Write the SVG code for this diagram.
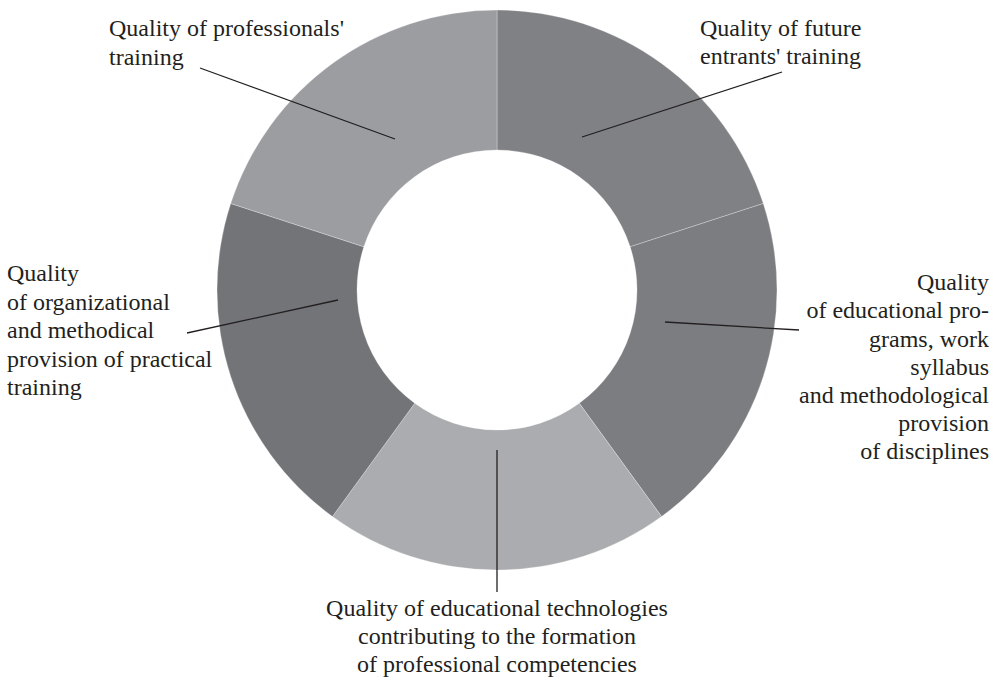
<svg xmlns="http://www.w3.org/2000/svg" width="998" height="684" viewBox="0 0 998 684">
<style>
.seg{stroke:#ffffff;stroke-opacity:0.35;stroke-width:0.8}
.lead{stroke:#231f20;stroke-width:1.3;fill:none}
text{font-family:'Liberation Serif','Times New Roman',serif;font-size:24px;fill:#231f20}
</style>
<rect width="998" height="684" fill="#ffffff"/>
<g id="seg-future-entrants">
<path class="seg" fill="#808185" d="M497,10 A280,280 0 0 1 763.30,203.47 L630.15,246.74 A140,140 0 0 0 497,150 Z"/>
</g>
<g id="seg-educational-programs">
<path class="seg" fill="#7c7d81" d="M763.30,203.47 A280,280 0 0 1 661.58,516.53 L579.29,403.26 A140,140 0 0 0 630.15,246.74 Z"/>
</g>
<g id="seg-educational-technologies">
<path class="seg" fill="#abacaf" d="M661.58,516.53 A280,280 0 0 1 332.42,516.53 L414.71,403.26 A140,140 0 0 0 579.29,403.26 Z"/>
</g>
<g id="seg-practical-training">
<path class="seg" fill="#737478" d="M332.42,516.53 A280,280 0 0 1 230.70,203.47 L363.85,246.74 A140,140 0 0 0 414.71,403.26 Z"/>
</g>
<g id="seg-professionals">
<path class="seg" fill="#9c9da1" d="M230.70,203.47 A280,280 0 0 1 497,10 L497,150 A140,140 0 0 0 363.85,246.74 Z"/>
</g>
<g id="connectors">
<line class="lead" x1="200" y1="68" x2="395" y2="139"/>
<line class="lead" x1="782" y1="72" x2="582" y2="137"/>
<line class="lead" x1="187" y1="333" x2="338" y2="300"/>
<line class="lead" x1="665" y1="322" x2="799" y2="330"/>
<line class="lead" x1="497" y1="450" x2="497" y2="592"/>
</g>
<g id="label-professionals" font-family="Liberation Serif, serif" font-size="24">
<text x="109" y="36">Quality of professionals'</text>
<text x="109" y="65">training</text>
</g>
<g id="label-future-entrants" font-family="Liberation Serif, serif" font-size="24">
<text x="700" y="36">Quality of future</text>
<text x="700" y="64">entrants' training</text>
</g>
<g id="label-practical-training" font-family="Liberation Serif, serif" font-size="24">
<text x="7" y="281">Quality</text>
<text x="7" y="310">of organizational</text>
<text x="7" y="338">and methodical</text>
<text x="7" y="367">provision of practical</text>
<text x="7" y="395">training</text>
</g>
<g id="label-educational-programs" font-family="Liberation Serif, serif" font-size="24" text-anchor="end">
<text x="989" y="290">Quality</text>
<text x="989" y="318">of educational pro-</text>
<text x="989" y="347">grams, work</text>
<text x="989" y="375">syllabus</text>
<text x="989" y="403">and methodological</text>
<text x="989" y="431">provision</text>
<text x="989" y="459">of disciplines</text>
</g>
<g id="label-educational-technologies" font-family="Liberation Serif, serif" font-size="24" text-anchor="middle">
<text x="497" y="616">Quality of educational technologies</text>
<text x="497" y="644">contributing to the formation</text>
<text x="497" y="672">of professional competencies</text>
</g>
</svg>
